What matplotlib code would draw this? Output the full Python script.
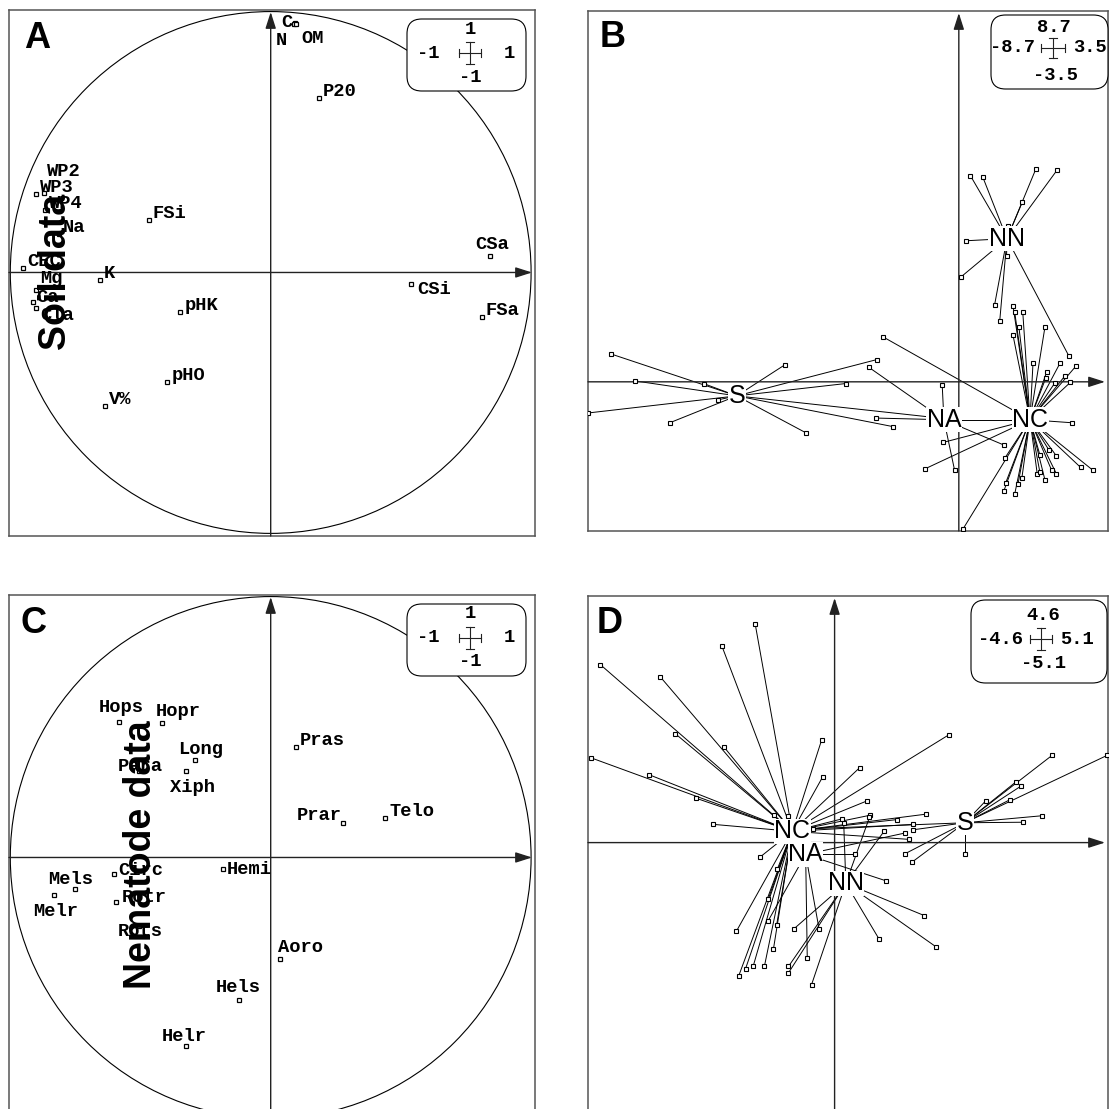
import matplotlib
matplotlib.use("Agg")
import matplotlib.pyplot as plt
from matplotlib.patches import Circle, FancyBboxPatch

# ---------------- data ----------------
# panel A: soil variables on the correlation circle
soil_names = ["C", "N", "OM", "P20", "WP2", "WP3", "WP4", "Na", "FSi", "CEC",
              "K", "Mg", "Ca", "Cla", "CSa", "CSi", "FSa", "pHK", "pHO", "V%"]
soil_x = [0.094, 0.090, 0.098, 0.186, -0.869, -0.900, -0.868, -0.814, -0.468, -0.951,
          -0.657, -0.900, -0.914, -0.900, 0.841, 0.538, 0.810, -0.347, -0.397, -0.638]
soil_y = [0.955, 0.953, 0.953, 0.668, 0.306, 0.300, 0.240, 0.148, 0.203, 0.019,
          -0.028, -0.066, -0.112, -0.135, 0.064, -0.043, -0.170, -0.150, -0.419, -0.511]

# panel C: nematode taxa on the correlation circle
nema_names = ["Hops", "Hopr", "Long", "Para", "Xiph", "Pras", "Prar", "Telo", "Hemi",
              "Circ", "Mels", "Melr", "Rotr", "Rots", "Aoro", "Hels", "Helr"]
nema_x = [-0.582, -0.419, -0.292, -0.506, -0.324, 0.098, 0.276, 0.439, -0.185,
          -0.602, -0.753, -0.834, -0.595, -0.506, 0.036, -0.123, -0.326]
nema_y = [0.519, 0.517, 0.372, 0.330, 0.330, 0.424, 0.132, 0.153, -0.046,
          -0.065, -0.119, -0.142, -0.170, -0.264, -0.390, -0.547, -0.723]

# scale boxes: top, left, right, bottom
a_scale = ["1", "-1", "1", "-1"]
b_scale = ["8.7", "-8.7", "3.5", "-3.5"]
c_scale = ["1", "-1", "1", "-1"]
d_scale = ["4.6", "-4.6", "5.1", "-5.1"]

groups = ["S", "NA", "NC", "NN"]

# panel B: site scores (soil) and class centres
b_centre_x = [-5.21, -0.35, 1.67, 1.13]
b_centre_y = [-0.33, -0.89, -0.89, 3.36]
b_S = [(-8.15, 0.65), (-7.59, 0.02), (-5.99, -0.04), (-4.08, 0.40), (-1.93, 0.52),
       (-2.65, -0.04), (-5.64, -0.42), (-8.69, -0.73), (-6.78, -0.96), (-3.58, -1.20),
       (-1.55, -1.05), (-0.45, -0.85)]
b_NA = [(-2.11, 0.34), (-1.95, -0.85), (-0.39, -0.07), (-0.10, -2.07), (1.05, -1.48),
        (1.55, -0.89)]
b_NC = [(1.27, 1.79), (1.31, 1.64), (1.50, 1.64), (1.41, 1.28), (2.02, 1.28), (1.27, 1.10),
        (1.74, 0.43), (2.37, 0.43), (2.06, 0.23), (2.74, 0.36), (2.49, 0.14), (2.04, 0.09),
        (2.25, -0.03), (2.62, -0.01), (2.65, -0.96), (-0.36, -1.42), (-0.79, -2.04),
        (-1.77, 1.05), (1.08, -1.79), (1.06, -2.55), (1.31, -2.64), (1.39, -2.39),
        (0.10, -3.45), (1.90, -1.71), (2.12, -1.61), (2.29, -1.74), (1.84, -2.16),
        (2.02, -2.30), (2.18, -2.08), (2.29, -2.16), (1.90, -2.11), (2.86, -2.01),
        (3.14, -2.07), (1.10, -2.37), (1.48, -2.25)]
b_NN = [(0.27, 4.84), (0.56, 4.81), (1.81, 5.00), (2.30, 4.96), (1.49, 4.22), (1.15, 3.66),
        (0.18, 3.31), (1.12, 2.96), (0.05, 2.46), (0.84, 1.81), (0.96, 1.43), (2.58, 0.61)]

# panel D: site scores (nematodes) and class centres
d_centre_x = [2.43, -0.54, -0.79, 0.21]
d_centre_y = [0.37, -0.22, 0.21, -0.76]
d_S = [(4.06, 1.63), (5.09, 1.63), (3.47, 1.05), (3.38, 1.13), (3.27, 0.80), (2.82, 0.78),
       (3.86, 0.50), (3.52, 0.38), (2.43, -0.21), (1.31, -0.21), (1.45, -0.36),
       (1.47, 0.24), (-0.41, 0.26)]
d_NA = [(-0.51, -2.15), (-0.29, -1.61), (-1.24, -1.46), (0.95, -0.71), (1.32, 0.18),
        (0.38, -0.22)]
d_NC = [(-1.48, 4.07), (-2.10, 3.66), (-4.37, 3.32), (-3.25, 3.09), (-2.97, 2.03),
        (-2.06, 1.78), (-0.24, 1.92), (-0.22, 1.23), (-4.54, 1.58), (-3.47, 1.27),
        (-2.59, 0.83), (-2.26, 0.34), (-1.13, 0.51), (-0.87, 0.50), (-1.39, -0.27),
        (0.47, 1.40), (2.13, 2.01), (0.61, 0.78), (0.66, 0.51), (0.13, 0.44), (1.70, 0.53),
        (1.17, 0.43), (1.47, 0.34), (1.39, 0.06), (-1.83, -1.65), (-1.79, -2.49),
        (-1.66, -2.35), (-1.52, -2.31), (-1.31, -2.31), (-1.14, -1.98), (-1.08, -1.53),
        (-1.24, -1.06), (-1.07, -0.50)]
d_NN = [(-0.76, -1.61), (-0.86, -2.31), (-0.86, -2.43), (-0.43, -2.65), (0.83, -1.80),
        (1.67, -1.36), (1.90, -1.95), (0.17, 0.37), (0.65, 0.47), (0.93, 0.22)]

# ---------------- style ----------------
FIG_W, FIG_H = 1110, 1109
MONO = "Liberation Mono"
SANS = "Liberation Sans"
LABEL_SIZE = 13.5
LABEL_WEIGHT = "bold"

# label offsets in pixels (right, down) from marker to text baseline start
soil_offsets = {"C": (-14, 4), "N": (-18, 21), "OM": (5, 19), "WP2": (3, -17),
                "Mg": (4, -7), "Ca": (4, 0), "Cla": (4, 12), "CSa": (-14, -7),
                "CSi": (6, 10)}
nema_offsets = {"Hops": (-20, -10), "Hopr": (-6, -7), "Long": (-17, -6), "Para": (-21, 0),
                "Xiph": (-16, 21), "Hemi": (4, 5), "Circ": (4, 1), "Mels": (-26, -5),
                "Melr": (-20, 21), "Rotr": (6, 0), "Rots": (-21, 10), "Aoro": (-2, -7),
                "Hels": (-23, -8), "Helr": (-24, -5), "Prar": (-46, -3)}

# scale box layout in pixels from the panel's top-left corner
circle_box = {"box": (398, 9, 517, 81), "cross": (461, 43), "arms": (11, 11),
              "top": (461, 19), "left": 431, "right": 495, "bottom": (461, 67)}
b_box = {"box": (403, 4, 520, 78), "cross": (465, 37), "arms": (12, 10),
         "top": (466, 17), "left": 447, "right": 485, "bottom": (467, 64)}
d_box = {"box": (383, 4, 519, 87), "cross": (453, 43), "arms": (11, 11),
         "top": (455, 20), "left": 435, "right": 472, "bottom": (455, 68)}

fig = plt.figure(figsize=(FIG_W / 100, FIG_H / 100), dpi=100)


def add_panel(left, top, w, h):
    return fig.add_axes([left / FIG_W, 1 - (top + h) / FIG_H, w / FIG_W, h / FIG_H])


def draw_frame(ax, xlim, ylim, w, h):
    ax.set_xlim(xlim)
    ax.set_ylim(ylim)
    ax.set_xticks([])
    ax.set_yticks([])
    for sp in ax.spines.values():
        sp.set_color("#555555")
        sp.set_linewidth(1.1)
    px_x = (xlim[1] - xlim[0]) / w
    px_y = (ylim[1] - ylim[0]) / h
    arrow = dict(arrowstyle="-|>,head_length=1.0,head_width=0.32", color="#222222",
                 lw=1.0, shrinkA=0, shrinkB=0)
    ax.annotate("", xy=(xlim[1] - 3 * px_x, 0), xytext=(xlim[0], 0),
                arrowprops=arrow, annotation_clip=False)
    ax.annotate("", xy=(0, ylim[1] - 2 * px_y), xytext=(0, ylim[0]),
                arrowprops=arrow, annotation_clip=False)


def scale_box(ax, w, h, lay, values):
    fx = lambda px: px / w
    fy = lambda py: 1 - py / h
    x0, y0, x1, y1 = lay["box"]
    ax.add_patch(FancyBboxPatch((fx(x0), fy(y1)), fx(x1) - fx(x0), fy(y0) - fy(y1),
                                boxstyle="round,pad=0,rounding_size=0.028",
                                transform=ax.transAxes, fc="white", ec="black",
                                lw=0.8, zorder=6, clip_on=False))
    cx, cy = lay["cross"]
    hx, hy = lay["arms"]
    kw = dict(transform=ax.transAxes, color="#222222", lw=0.8, zorder=7)
    ax.plot([fx(cx - hx), fx(cx + hx)], [fy(cy), fy(cy)], **kw)
    ax.plot([fx(cx), fx(cx)], [fy(cy - hy), fy(cy + hy)], **kw)
    for s in (-1, 1):
        ax.plot([fx(cx + s * hx)] * 2, [fy(cy - 4), fy(cy + 4)], **kw)
        ax.plot([fx(cx - 4), fx(cx + 4)], [fy(cy + s * hy)] * 2, **kw)
    top, left, right, bottom = values
    tk = dict(transform=ax.transAxes, family=MONO, fontsize=LABEL_SIZE,
              fontweight=LABEL_WEIGHT, zorder=8, va="center")
    ax.text(fx(lay["top"][0]), fy(lay["top"][1]), top, ha="center", **tk)
    ax.text(fx(lay["left"]), fy(cy), left, ha="right", **tk)
    ax.text(fx(lay["right"]), fy(cy), right, ha="left", **tk)
    ax.text(fx(lay["bottom"][0]), fy(lay["bottom"][1]), bottom, ha="center", **tk)


def panel_letter(ax, letter, x, y):
    ax.text(x, y, letter, transform=ax.transAxes, family=SANS, fontsize=26,
            fontweight="bold", va="baseline", ha="left", zorder=9)


def circle_panel(ax, names, xs, ys, offsets):
    ax.add_patch(Circle((0, 0), 1.0, fill=False, ec="black", lw=0.8, zorder=1))
    ax.plot(xs, ys, "s", ms=3.4, mfc="white", mec="black", mew=0.9, ls="none", zorder=3)
    for name, x, y in zip(names, xs, ys):
        dx, dy = offsets.get(name, (4, -2))
        ax.annotate(name, (x, y), xytext=(dx, -dy), textcoords="offset pixels",
                    ha="left", va="baseline", family=MONO, fontsize=LABEL_SIZE,
                    fontweight=LABEL_WEIGHT, zorder=4)


def class_panel(ax, cxs, cys, point_sets):
    for cx, cy, pts in zip(cxs, cys, point_sets):
        for x, y in pts:
            ax.plot([x, cx], [y, cy], color="black", lw=0.7, zorder=2)
        px, py = zip(*pts)
        ax.plot(px, py, "s", ms=3.2, mfc="white", mec="black", mew=0.8, ls="none", zorder=3)
    for g, cx, cy in zip(groups, cxs, cys):
        ax.text(cx, cy, g, ha="center", va="center", family=SANS, fontsize=18, zorder=5,
                bbox=dict(fc="white", ec="none", pad=0.3))


# panel A
axA = add_panel(9, 10, 526, 526)
draw_frame(axA, (-1.005, 1.015), (-1.01, 1.006), 526, 526)
circle_panel(axA, soil_names, soil_x, soil_y, soil_offsets)
scale_box(axA, 526, 526, circle_box, a_scale)
panel_letter(axA, "A", 0.028, 0.928)

# panel B
axB = add_panel(588, 11, 520, 520)
draw_frame(axB, (-8.7, 3.5), (-3.5, 8.7), 520, 520)
class_panel(axB, b_centre_x, b_centre_y, [b_S, b_NA, b_NC, b_NN])
scale_box(axB, 520, 520, b_box, b_scale)
panel_letter(axB, "B", 0.023, 0.930)

# panel C
axC = add_panel(9, 595, 526, 526)
draw_frame(axC, (-1.005, 1.015), (-1.01, 1.006), 526, 526)
circle_panel(axC, nema_names, nema_x, nema_y, nema_offsets)
scale_box(axC, 526, 526, circle_box, c_scale)
panel_letter(axC, "C", 0.022, 0.927)

# panel D
axD = add_panel(588, 596, 520, 520)
draw_frame(axD, (-4.6, 5.1), (-5.1, 4.6), 520, 520)
class_panel(axD, d_centre_x, d_centre_y, [d_S, d_NA, d_NC, d_NN])
scale_box(axD, 520, 520, d_box, d_scale)
panel_letter(axD, "D", 0.017, 0.929)

# big rotated titles over the left panels
fig.text(56 / FIG_W, 1 - 272 / FIG_H, "Soil data", rotation=90, ha="center", va="center",
         family=SANS, fontsize=27, fontweight="bold", zorder=10)
fig.text(141 / FIG_W, 1 - 855 / FIG_H, "Nematode data", rotation=90, ha="center",
         va="center", family=SANS, fontsize=27, fontweight="bold", zorder=10)

fig.savefig("out.png", dpi=100)
